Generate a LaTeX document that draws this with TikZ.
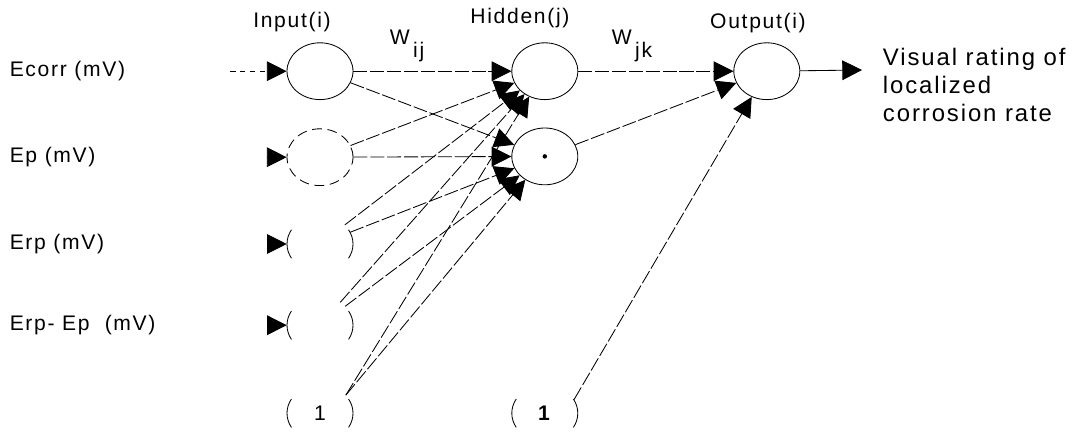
\documentclass[tikz,border=0pt]{standalone}
\usepackage{fontspec}
\setmainfont{Liberation Sans}[LetterSpace=8]
\usetikzlibrary{arrows.meta,shapes.geometric,positioning}

\tikzset{
  neuron/.style={ellipse,draw,line width=0.6pt,minimum width=1.65cm,minimum height=1.42cm,inner sep=0pt},
  hollow/.style={ellipse,minimum width=1.65cm,minimum height=1.42cm,inner sep=0pt},
  link/.style={->,line width=0.6pt,dash pattern=on 10pt off 2pt},
}

% only the left and right sides of an ellipse node
\newcommand{\sidearcs}[1]{%
  \draw[line width=0.6pt] ([shift={(150:0.825cm and 0.71cm)}]#1.center)
    arc[start angle=150,end angle=210,x radius=0.825cm,y radius=0.71cm];
  \draw[line width=0.6pt] ([shift={(-30:0.825cm and 0.71cm)}]#1.center)
    arc[start angle=-30,end angle=30,x radius=0.825cm,y radius=0.71cm];}

\begin{document}
\begin{tikzpicture}[>={Triangle[length=14pt,width=14pt]},on grid,font=\fontsize{15}{18.5}\selectfont]
    \useasboundingbox (0,0) rectangle (27.05,-10.95);
    % input layer
    \node[neuron]                         (in1) at (8,-1.78)               {};
    \node[neuron,dash pattern=on 7pt off 4pt] (in2) [below=2.15cm of in1]  {};
    \node[hollow]                         (in3) [below=2.17cm of in2]      {};
    \node[hollow]                         (in4) [below=2.03cm of in3]      {};
    \node[hollow]                         (b1)  [below=2.2cm of in4]       {1};
    % hidden and output layers
    \node[neuron]                         (hid1) [right=5.62cm of in1]     {};
    \node[neuron]                         (hid2) [below=2.13cm of hid1]    {};
    \node[hollow]                         (b2)   [right=5.62cm of b1]      {\textbf{1}};
    \node[neuron]                         (out)  [right=5.55cm of hid1]    {};
    \fill (hid2) circle (1.6pt);
    \sidearcs{in3}
    \sidearcs{in4}
    \sidearcs{b1}
    \sidearcs{b2}

    % layer titles and weights
    \node (tin)  [above=1.23cm of in1, xshift=-0.7cm]  {Input(i)};
    \node (thid) [above=1.32cm of hid1, xshift=-0.62cm] {Hidden(j)};
    \node (tout) [above=1.2cm of out, xshift=-0.22cm]  {Output(i)};
    \node[anchor=base west] (wij) at (9.62,-1.12)  {W\raisebox{-1.1ex}{\,ij}};
    \node[anchor=base west] (wjk) at (15.17,-1.12) {W\raisebox{-1.1ex}{\,jk}};

    % variables
    \node[anchor=west] (ecorr) at (0.12,-1.78) {Ecorr (mV)};
    \node[anchor=west] (ep)    at (0.12,-3.93) {Ep (mV)};
    \node[anchor=west] (erp)   at (0.12,-6.1)  {Erp (mV)};
    \node[anchor=west] (erpep) at (0.12,-8.13) {Erp- Ep~ (mV)};
    \node[anchor=west,align=left,font=\fontsize{17}{20}\selectfont] (rate) at (21.95,-2.12)
      {Visual rating of\\localized\\corrosion rate};

    \coordinate (x1) at (5.75,-1.78);
    \coordinate[left=0.5cm of in2.west] (x2);
    \coordinate[left=0.5cm of in3.west] (x3);
    \coordinate[left=0.5cm of in4.west] (x4);
    \coordinate (y1) at (21.55,-1.75);

    \draw[->,line width=0.6pt,dash pattern=on 4pt off 3pt] (x1) -- (in1);
    \path[->,line width=0.6pt]
     (x2) edge (in2)
     (x3) edge (in3)
     (x4) edge (in4)
     (out) edge (y1);
    \path[link]
     (in1)  edge (hid1)
     (in1)  edge (hid2)
     (in2)  edge (hid1)
     (in2)  edge (hid2)
     (in3)  edge (hid1)
     (in3)  edge (hid2)
     (in4)  edge (hid1)
     (in4)  edge (hid2)
     (b1.35) edge (hid1)
     (b1.35) edge (hid2)
     (hid1) edge (out)
     (hid2) edge (out)
     (b2.25) edge (out);
\end{tikzpicture}
\end{document}
